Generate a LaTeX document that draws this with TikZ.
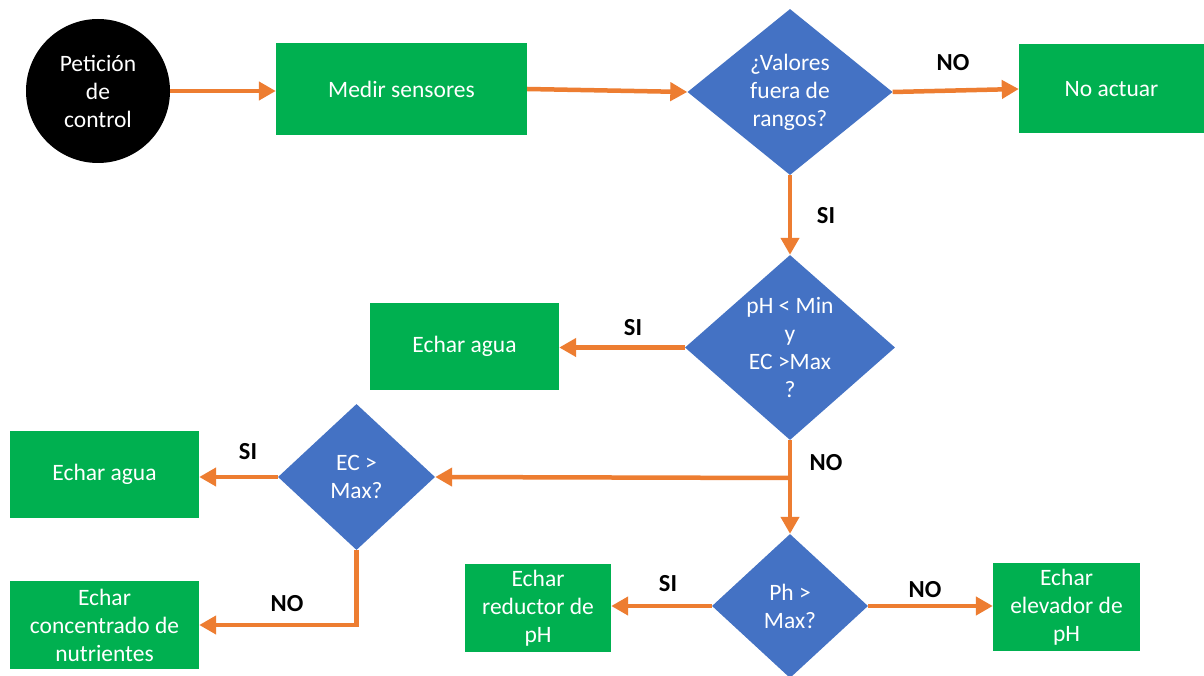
\documentclass[tikz,border=0pt]{standalone}
\usepackage{fontspec}
\setmainfont{Carlito}
\usetikzlibrary{shapes.geometric,arrows.meta}
\definecolor{cgreen}{HTML}{00B050}
\definecolor{cblue}{HTML}{4472C4}
\definecolor{corange}{HTML}{ED7D31}
\begin{document}
\begin{tikzpicture}[x=1pt,y=-1pt,
  box/.style={fill=cgreen, draw=none, text=white, align=center, inner sep=0pt, font=\fontsize{23.5}{28}\selectfont},
  dia/.style={diamond, fill=cblue, draw=none, inner sep=0pt},
  dtext/.style={text=white, align=center, inner sep=0pt, font=\fontsize{23.5}{28}\selectfont},
  lab/.style={font=\fontsize{24.5}{28}\selectfont\bfseries, text=black, inner sep=0pt},
  arr/.style={draw=corange, line width=4.5pt, -{Triangle[length=17pt,width=18pt]}}]
\useasboundingbox (0,0) rectangle (1204,676);
\fill[white] (0,0) rectangle (1204,676);

% start circle
\node[circle, fill=black, minimum size=144pt, inner sep=0pt, text=white, align=center,
      font=\fontsize{23.5}{28}\selectfont] (start) at (98,91) {Petición\\de\\control};

% boxes
\node[box, minimum width=251pt, minimum height=92pt] (medir) at (401.5,89) {Medir sensores};
\node[box, minimum width=185pt, minimum height=89pt] (noact) at (1111.5,89) {No actuar};
\node[box, minimum width=189pt, minimum height=87pt] (agua1) at (464.5,346.5) {Echar agua};
\node[box, minimum width=189pt, minimum height=87pt] (agua2) at (104.5,474.5) {Echar agua};
\node[box, minimum width=189pt, minimum height=88pt] (conc) at (104.5,625) {Echar\\concentrado de\\nutrientes};
\node[box, minimum width=146pt, minimum height=88pt] (red) at (538,608) {Echar\\reductor de\\pH};
\node[box, minimum width=147pt, minimum height=88pt] (elev) at (1066.5,607) {Echar\\elevador de\\pH};

% diamonds
\node[dia, minimum width=205pt, minimum height=166pt] (d1) at (790,92) {};
\node[dtext] at (d1.center) {¿Valores\\fuera de\\rangos?};
\node[dia, minimum width=210pt, minimum height=185pt] (d2) at (790,347.5) {};
\node[dtext] at (d2.center) {pH < Min\\y\\EC >Max\\?};
\node[dia, minimum width=157pt, minimum height=146pt] (d3) at (356.5,477) {};
\node[dtext] at (d3.center) {EC >\\Max?};
\node[dia, minimum width=156pt, minimum height=144pt] (d4) at (790,606) {};
\node[dtext] at (d4.center) {Ph >\\Max?};

% connectors
\draw[arr] (start.east) -- (start.east -| medir.west);
\draw[arr] (medir.east) -- (d1.west);
\draw[arr] (d1.east) -- (noact.west);
\draw[arr] (d1.south) -- (d2.north);
\draw[arr] (d2.west) -- (d2.west -| agua1.east);
\coordinate (br) at (790,478);
\draw[arr] (d2.south) -- (d4.north);
\draw[arr] (br) -- (d3.east);
\draw[arr] (d3.west) -- (d3.west -| agua2.east);
\draw[arr] (d3.south) |- (conc.east);
\draw[arr] (d4.west) -- (d4.west -| red.east);
\draw[arr] (d4.east) -- (d4.east -| elev.west);

% labels
\node[lab] (l1) at (953,63) {NO};
\node[lab] (l2) at (826,216) {SI};
\node[lab] (l3) at (633,328) {SI};
\node[lab] (l4) at (826,463) {NO};
\node[lab] (l5) at (248,452) {SI};
\node[lab] (l6) at (287,604) {NO};
\node[lab] (l7) at (668,584) {SI};
\node[lab] (l8) at (925,590) {NO};
\end{tikzpicture}
\end{document}
